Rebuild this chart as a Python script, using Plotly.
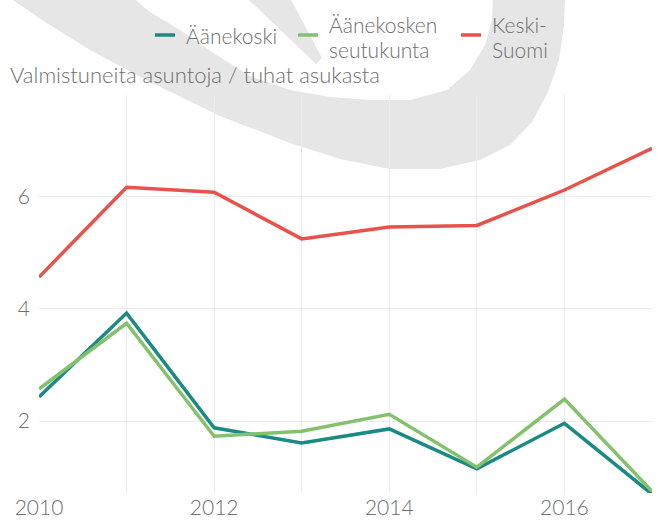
import plotly.graph_objects as go

years = [2010, 2011, 2012, 2013, 2014, 2015, 2016, 2017]
aanekoski = [2.43, 3.92, 1.88, 1.61, 1.86, 1.15, 1.96, 0.70]
seutukunta = [2.57, 3.74, 1.73, 1.82, 2.12, 1.18, 2.39, 0.75]
keski_suomi = [4.56, 6.16, 6.07, 5.24, 5.45, 5.48, 6.11, 6.85]

series_names = ["Äänekoski", "Äänekosken seutukunta", "Keski-Suomi"]
legend_lines = [["Äänekoski"], ["Äänekosken", "seutukunta"], ["Keski-", "Suomi"]]
series_colors = ["#1b8a84", "#84c16d", "#e8524a"]
x_tick_vals = years
x_tick_text = ["2010", "", "2012", "", "2014", "", "2016", ""]
y_tick_vals = [2, 4, 6]
y_title = "Valmistuneita asuntoja / tuhat asukasta"

W, H = 666, 523
L, R, T, B = 39, 14, 95, 30
PW, PH = W - L - R, H - T - B

def to_paper(px, py):
    return (px - L) / PW, (H - B - py) / PH

def path_from(points):
    parts = []
    for i, (px, py) in enumerate(points):
        x, y = to_paper(px, py)
        parts.append(("M" if i == 0 else "L") + f"{x:.4f},{y:.4f}")
    return " ".join(parts) + " Z"

swoosh = [(10, -2), (133, -2), (150, 12), (180, 30), (215, 54), (250, 76), (290, 90),
          (330, 97), (370, 100), (410, 100), (447, 90), (470, 70), (485, 45), (492, 20),
          (493, -2), (565, -2), (564, 25), (559, 60), (548, 92), (532, 122), (510, 145),
          (480, 160), (440, 169), (390, 169), (340, 159), (290, 143), (220, 116),
          (150, 82), (90, 50), (45, 22)]
dagger = [(247, -2), (290, -2), (322, 58), (316, 64)]

font_family = "Lato"
grey = "#6f6f6f"
FS = 22
LFS = 21
WT = 300

fig = go.Figure()
for name, vals, col in zip(series_names, [aanekoski, seutukunta, keski_suomi], series_colors):
    fig.add_trace(go.Scatter(x=years, y=vals, mode="lines", name=name, showlegend=False,
                             line=dict(color=col, width=3.5)))

shapes = [
    dict(type="path", xref="paper", yref="paper", path=path_from(swoosh),
         fillcolor="#e6e6e6", line=dict(width=0), layer="below"),
    dict(type="path", xref="paper", yref="paper", path=path_from(dagger),
         fillcolor="#e6e6e6", line=dict(width=0), layer="below"),
]
annotations = [dict(text=y_title, xref="paper", yref="paper",
                    x=to_paper(8, 0)[0], y=to_paper(0, 74)[1],
                    xanchor="left", yanchor="middle", showarrow=False,
                    font=dict(family=font_family, size=FS, color=grey, weight=WT))]

# custom legend (line sample + text lines)
leg_x = [155, 298, 461]
for lx, lines, col in zip(leg_x, legend_lines, series_colors):
    x0, y0 = to_paper(lx, 35)
    x1, _ = to_paper(lx + 20, 35)
    shapes.append(dict(type="line", xref="paper", yref="paper", x0=x0, x1=x1, y0=y0, y1=y0,
                       line=dict(color=col, width=3.5)))
    if len(lines) == 1:
        ys = [36]
    else:
        ys = [24, 49]
    for txt, ty in zip(lines, ys):
        tx, typ = to_paper(lx + 29, ty)
        annotations.append(dict(text=txt, xref="paper", yref="paper", x=tx, y=typ,
                                xanchor="left", yanchor="middle", showarrow=False,
                                font=dict(family=font_family, size=LFS, color=grey, weight=WT)))

fig.update_layout(
    width=W, height=H,
    margin=dict(l=L, r=R, t=T, b=B, autoexpand=False),
    paper_bgcolor="white", plot_bgcolor="rgba(0,0,0,0)",
    font=dict(family=font_family, size=FS, color=grey, weight=WT),
    shapes=shapes,
    annotations=annotations,
    showlegend=False,
)
fig.update_xaxes(range=[2010, 2017], tickvals=x_tick_vals, ticktext=x_tick_text,
                 showgrid=True, gridcolor="#ececec", gridwidth=1, zeroline=False,
                 showline=False, ticks="", automargin=False,
                 tickfont=dict(size=21, color=grey, weight=WT))
fig.update_yaxes(range=[0.72, 7.8], tickvals=y_tick_vals, showgrid=True,
                 gridcolor="#ececec", gridwidth=1, zeroline=False, showline=False,
                 ticks="", automargin=False, ticklabelstandoff=8,
                 tickfont=dict(size=21, color=grey, weight=WT))

fig.write_html("out.html", config={"displayModeBar": False},
               post_script="document.body.style.margin='0';document.body.style.overflow='hidden';")
